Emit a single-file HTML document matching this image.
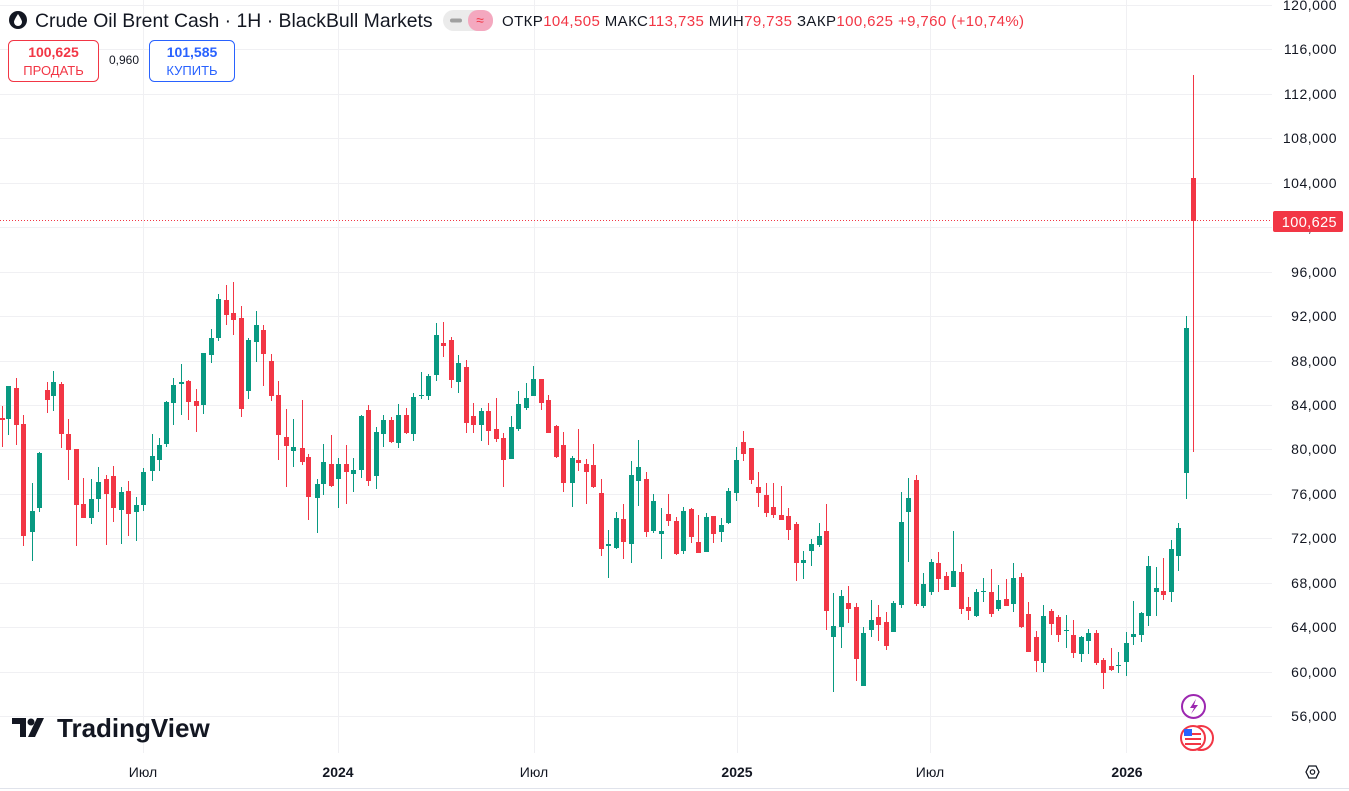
<!DOCTYPE html>
<html><head><meta charset="utf-8">
<style>
body{margin:0;background:#fff;width:1349px;height:791px;overflow:hidden;font-family:"Liberation Sans",sans-serif;}
svg{position:absolute;left:0;top:0}
text{font-family:"Liberation Sans",sans-serif}
</style></head><body>
<svg id="s" width="1349" height="791" xmlns="http://www.w3.org/2000/svg">
<g id="grid" stroke="#f0f0f3" stroke-width="1"></g>
<g stroke="#f0f0f3"><line x1="143.5" y1="0" x2="143.5" y2="753"/><line x1="338.5" y1="0" x2="338.5" y2="753"/><line x1="534.5" y1="0" x2="534.5" y2="753"/><line x1="737.5" y1="0" x2="737.5" y2="753"/><line x1="930.5" y1="0" x2="930.5" y2="753"/><line x1="1126.5" y1="0" x2="1126.5" y2="753"/></g>
<line x1="0" y1="220.5" x2="1272" y2="220.5" stroke="#f23645" stroke-dasharray="1 2"/>
<g id="c"></g>
<g id="ax" font-size="14" fill="#131722" letter-spacing="0.5"></g>
<rect x="1273" y="211" width="70" height="21" rx="2" fill="#f23645"/>
<text x="1337" y="227" text-anchor="end" font-size="14.5" fill="#fff" letter-spacing="0.4">100,625</text>
<g font-size="14" fill="#131722" text-anchor="middle">
<text x="143" y="777">Июл</text><text x="338" y="777" font-weight="bold">2024</text><text x="534" y="777">Июл</text><text x="737" y="777" font-weight="bold">2025</text><text x="930" y="777">Июл</text><text x="1127" y="777" font-weight="bold">2026</text>
</g>
<line x1="0" y1="788.5" x2="1349" y2="788.5" stroke="#e0e3eb"/>
<polygon points="1306,772 1309,766 1316,766 1319,772 1316,778 1309,778" fill="none" stroke="#131722" stroke-width="1.3"/>
<circle cx="1312.5" cy="772" r="2.2" fill="none" stroke="#131722" stroke-width="1.2"/>
<circle cx="1193.5" cy="706.5" r="11.5" fill="none" stroke="#9c27b0" stroke-width="2"/>
<path d="M1196,699 L1190,708 L1194,708 L1191,714 L1198,705 L1194,705 Z" fill="#9c27b0"/>
<circle cx="1201" cy="738" r="12" fill="#fff" stroke="#f23645" stroke-width="2"/>
<circle cx="1193" cy="738" r="12" fill="#fff" stroke="#f23645" stroke-width="2"/>
<rect x="1185" y="733" width="16" height="2" fill="#f23645"/><rect x="1185" y="738" width="16" height="2" fill="#f23645"/><rect x="1185" y="743" width="16" height="2" fill="#f23645"/>
<rect x="1184" y="729" width="8" height="7" fill="#2962ff"/>
<g fill="#131722"><path d="M12,718 h14 v19 h-6 v-13 h-8 z"/><circle cx="31" cy="722" r="3.5"/><path d="M37,718 h7 l-9,19 h-7 z"/></g>
<text x="57" y="737" font-size="26" font-weight="bold" fill="#131722">TradingView</text>
<circle cx="18" cy="20" r="9" fill="#131722"/><path d="M18,14 q-4,6 -4,8 a4,4 0 0 0 8,0 q0,-2 -4,-8z" fill="#fff"/>
<text x="35" y="27" font-size="19.4" fill="#131722">Crude Oil Brent Cash · 1H · BlackBull Markets</text>
<rect x="443" y="10" width="50" height="21" rx="10.5" fill="#ebebeb"/>
<rect x="468" y="10" width="25" height="21" rx="10" fill="#f4a8bf"/>
<rect x="450" y="18.5" width="12" height="4" rx="2" fill="#a0a0a0"/>
<text x="480" y="25" font-size="14" fill="#f23645" text-anchor="middle">≈</text>
<text x="502" y="26" font-size="15" letter-spacing="0.4"><tspan fill="#131722">ОТКР</tspan><tspan fill="#f23645">104,505 </tspan><tspan fill="#131722">МАКС</tspan><tspan fill="#f23645">113,735 </tspan><tspan fill="#131722">МИН</tspan><tspan fill="#f23645">79,735 </tspan><tspan fill="#131722">ЗАКР</tspan><tspan fill="#f23645">100,625 +9,760 (+10,74%)</tspan></text>
<rect x="8.5" y="40.5" width="90" height="41" rx="5" fill="#fff" stroke="#f23645"/>
<text x="53.5" y="57" font-size="14" font-weight="bold" fill="#f23645" text-anchor="middle">100,625</text>
<text x="53.5" y="75" font-size="13" fill="#f23645" text-anchor="middle">ПРОДАТЬ</text>
<text x="124" y="64" font-size="12" fill="#131722" text-anchor="middle">0,960</text>
<rect x="149.5" y="40.5" width="85" height="41" rx="5" fill="#fff" stroke="#2962ff"/>
<text x="192" y="57" font-size="14" font-weight="bold" fill="#2962ff" text-anchor="middle">101,585</text>
<text x="192" y="75" font-size="13" fill="#2962ff" text-anchor="middle">КУПИТЬ</text>
</svg>
<script>
var NS="http://www.w3.org/2000/svg";
function el(p,t,a){var e=document.createElementNS(NS,t);for(var k in a)e.setAttribute(k,a[k]);p.appendChild(e);return e;}
var g=document.getElementById('grid'),ax=document.getElementById('ax');
for(var k=0;k<=16;k++){var y=5+k*44.44;el(g,'line',{x1:0,y1:Math.round(y)+.5,x2:1272,y2:Math.round(y)+.5});
var v=120000-k*4000;if(v>=56000){var t=el(ax,'text',{x:1337,y:Math.round(y)+5,'text-anchor':'end'});t.textContent=(v/1000)+',000';}}
var D=[
[2,406,447,418,420,'r'],[8,386,435,386,419,'g'],[16,378,445,388,425,'r'],[23,415,546,424,536,'r'],[31.5,483,561,511,532,'g'],[38.5,452,512,453,508,'g'],
[46.7,382,413,390,400,'r'],[53.3,371,411,382,396,'g'],[61,382,448,384,434,'r'],[68.3,419,480,434,450,'r'],[76,449,546,449,505,'r'],[83.3,478,518,504,518,'r'],
[91.3,479,524,499,518,'g'],[98.3,467,512,482,499,'g'],[106,475,545,479,494,'r'],[113.3,466,522,476,508,'r'],[121.3,487,544,492,510,'g'],[128.3,481,536,491,514,'r'],
[136.3,497,541,505,512,'g'],[143.3,468,511,472,505,'g'],[151.7,434,481,456,471,'g'],[158.7,438,471,445,460,'g'],[166.3,401,447,402,444,'g'],[173.3,378,425,385,403,'g'],
[181.3,364,415,382,384,'g'],[188.3,380,420,381,402,'r'],[196.3,389,432,401,406,'r'],[203.3,353,414,353,405,'g'],[211.3,329,363,338,355,'g'],[218.3,294,341,299,338,'g'],
[226.3,285,325,300,315,'r'],[233.3,282,335,313,320,'r'],[241.3,306,417,318,409,'r'],[248.3,338,399,340,391,'g'],[256.3,311,362,325,342,'g'],[263.3,325,386,330,354,'r'],
[271.3,354,401,361,396,'r'],[278.3,381,460,395,435,'r'],[286,409,487,437,446,'r'],[293.3,419,467,447,451,'g'],[301.7,400,465,448,462,'r'],[308.3,454,520,457,497,'r'],
[316.7,479,533,484,498,'g'],[323.3,444,495,462,484,'g'],[331.3,435,487,464,486,'r'],[338.3,458,508,464,479,'g'],[346.3,445,504,464,472,'r'],[353.3,458,492,470,474,'g'],
[361.3,415,478,416,470,'g'],[368.3,405,486,410,481,'r'],[376.3,427,489,432,476,'g'],[383.3,415,447,420,434,'g'],[391.3,417,443,420,442,'r'],[398.3,404,448,415,443,'g'],
[406.3,408,434,415,433,'r'],[413.3,393,441,397,434,'g'],[421.3,372,399,395,396,'g'],[428.3,374,400,376,396,'g'],[436.3,323,381,335,375,'g'],[443.3,322,357,343,346,'r'],
[451.3,337,388,340,380,'r'],[458.3,355,393,363,382,'g'],[466.3,360,433,367,423,'r'],[473.3,403,433,416,425,'r'],[481.3,408,441,411,425,'g'],[488.3,403,445,411,431,'r'],
[496.3,398,442,429,439,'r'],[503.3,433,487,438,460,'r'],[511.3,416,459,427,459,'g'],[518.3,391,431,404,429,'g'],[526.3,383,410,398,408,'g'],[533.3,366,396,379,396,'g'],
[541.3,379,410,379,403,'r'],[548.3,395,433,400,433,'r'],[556,425,458,426,457,'r'],[563.3,432,492,445,483,'r'],[571.7,456,507,458,483,'g'],[578.3,429,471,460,463,'r'],
[586.3,459,504,464,472,'r'],[593.3,444,488,465,487,'r'],[601.3,479,556,493,549,'r'],[608.3,530,578,544,546,'g'],[616.3,512,549,518,548,'g'],[623.3,504,559,519,542,'r'],
[631.3,461,563,475,544,'g'],[638.3,440,506,467,481,'g'],[646.3,472,537,479,532,'r'],[653.3,494,533,501,531,'g'],[661.3,508,559,531,534,'g'],[668.3,494,526,514,521,'r'],
[676.3,517,555,521,554,'r'],[683.3,507,554,511,551,'g'],[691.3,508,543,509,537,'r'],[698.3,515,553,542,553,'r'],[706.3,513,552,517,552,'g'],[713.3,516,543,516,534,'r'],
[721.3,518,542,525,532,'g'],[728.3,488,524,491,523,'g'],[736.3,447,501,460,493,'g'],[743.3,431,461,442,454,'r'],[751.3,448,484,448,480,'r'],[758.3,472,507,487,493,'r'],
[766.3,483,517,495,513,'r'],[773.3,483,518,507,515,'r'],[781.3,486,520,515,520,'r'],[788.3,508,540,516,530,'r'],[796.3,522,581,524,563,'r'],[803.3,551,579,560,563,'g'],
[811.3,539,566,544,551,'g'],[818.7,523,547,536,545,'g'],[826.3,504,630,531,611,'r'],[833.3,593,692,626,637,'g'],[841.3,590,648,596,627,'g'],[848.3,586,623,603,609,'r'],
[856.3,603,681,607,659,'r'],[863.3,627,686,633,686,'g'],[871.3,600,637,620,630,'g'],[878.3,605,641,617,625,'r'],[886.3,612,650,622,646,'r'],[893.3,601,632,603,632,'g'],
[901.3,492,608,522,605,'g'],[908.3,478,562,498,512,'g'],[916.3,475,606,480,604,'r'],[923.3,573,608,584,606,'g'],[931.3,559,595,562,592,'g'],[938.3,552,592,563,579,'r'],
[946.3,572,590,576,590,'r'],[953.3,531,587,571,587,'g'],[961.3,564,614,572,609,'r'],[968.3,597,620,607,611,'r'],[976.3,589,617,592,616,'g'],[983.3,578,602,591,592,'g'],
[991.3,569,617,592,614,'r'],[998.3,585,611,600,609,'g'],[1006.3,579,606,599,606,'r'],[1013.3,563,612,578,604,'g'],[1021.3,573,628,577,627,'r'],[1028.3,602,652,614,652,'r'],
[1036.3,631,672,637,661,'r'],[1043.3,605,672,616,663,'g'],[1051.3,609,635,611,624,'r'],[1058.3,615,642,617,635,'r'],[1066.3,615,648,630,631,'g'],[1073.3,620,658,635,653,'r'],
[1081.3,636,662,637,654,'g'],[1088.3,629,654,633,641,'g'],[1096.3,630,665,633,663,'r'],[1103.3,658,689,660,673,'r'],[1111.3,648,671,666,670,'r'],[1118.3,652,673,665,666,'g'],
[1126.3,632,676,643,662,'g'],[1133.3,601,645,634,637,'g'],[1141.3,612,642,613,635,'g'],[1148.3,556,626,566,616,'g'],[1156.3,567,616,588,592,'g'],[1163.3,558,600,591,595,'r'],
[1171.3,540,602,549,592,'g'],[1178.3,523,571,528,556,'g'],[1186.3,316,499,328,473,'g'],[1193.3,75,452,178,221,'r']
];
var c=document.getElementById('c');
D.forEach(function(d){var col=d[5]=='g'?'#089981':'#f23645';var x=Math.round(d[0]);
el(c,'rect',{x:x,y:d[1],width:1,height:d[2]-d[1],fill:col});
el(c,'rect',{x:x-2,y:d[3],width:5,height:Math.max(1,d[4]-d[3]),fill:col});});
</script>
</body></html>
